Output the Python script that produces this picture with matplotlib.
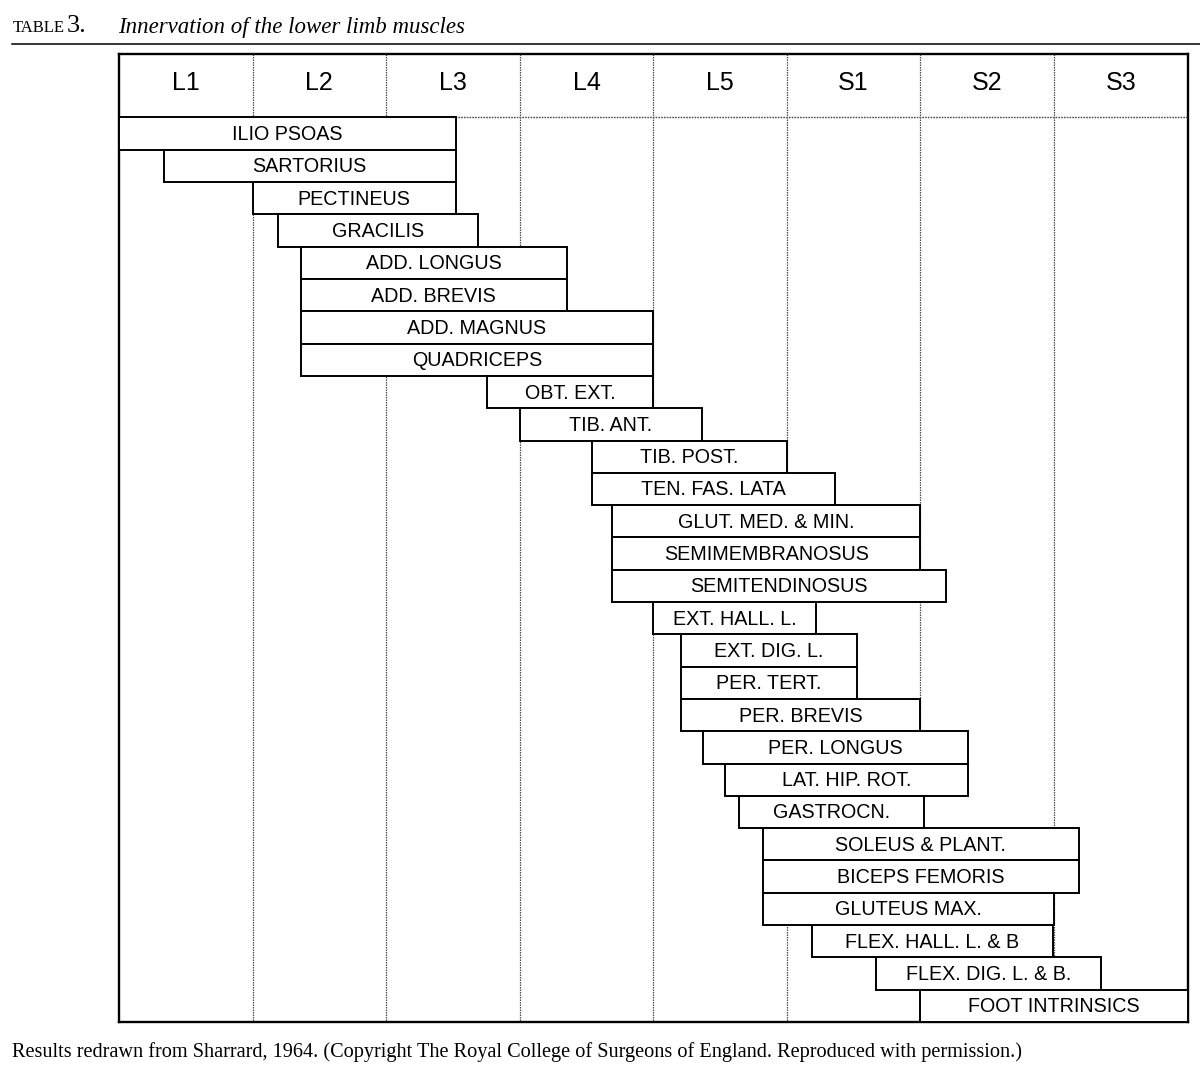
import matplotlib
matplotlib.use("Agg")
import matplotlib.pyplot as plt
from matplotlib.lines import Line2D

# ---- data ----
segments = ["L1", "L2", "L3", "L4", "L5", "S1", "S2", "S3"]
muscles = [
    "ILIO PSOAS", "SARTORIUS", "PECTINEUS", "GRACILIS", "ADD. LONGUS",
    "ADD. BREVIS", "ADD. MAGNUS", "QUADRICEPS", "OBT. EXT.", "TIB. ANT.",
    "TIB. POST.", "TEN. FAS. LATA", "GLUT. MED. & MIN.", "SEMIMEMBRANOSUS",
    "SEMITENDINOSUS", "EXT. HALL. L.", "EXT. DIG. L.", "PER. TERT.",
    "PER. BREVIS", "PER. LONGUS", "LAT. HIP. ROT.", "GASTROCN.",
    "SOLEUS & PLANT.", "BICEPS FEMORIS", "GLUTEUS MAX.", "FLEX. HALL. L. & B",
    "FLEX. DIG. L. & B.", "FOOT INTRINSICS",
]
# start / end of innervation, in segment units (L1 starts at 0, S3 ends at 8)
starts = [0.00, 0.335, 1.00, 1.19, 1.36, 1.36, 1.36, 1.36, 2.757, 3.00,
          3.538, 3.538, 3.69, 3.69, 3.69, 4.00, 4.21, 4.21, 4.21, 4.37,
          4.536, 4.643, 4.818, 4.818, 4.818, 5.185, 5.666, 6.00]
ends = [2.52, 2.52, 2.52, 2.69, 3.355, 3.355, 4.00, 4.00, 4.00, 4.364,
        5.00, 5.36, 6.00, 6.00, 6.195, 5.22, 5.526, 5.526, 6.00, 6.357,
        6.357, 6.03, 7.187, 7.187, 7.00, 6.995, 7.356, 8.00]

title_small = "TABLE"
title_num = "3."
title_text = "Innervation of the lower limb muscles"
caption = ("Results redrawn from Sharrard, 1964. (Copyright The Royal College of "
           "Surgeons of England. Reproduced with permission.)")

# ---- layout ----
W, H = 1200, 1069
fig = plt.figure(figsize=(W / 100, H / 100), dpi=100)
fig.patch.set_facecolor("white")

left_px, right_px, top_px, bottom_px = 119, 1187.5, 54, 1022
ax = fig.add_axes([left_px / W, 1 - bottom_px / H,
                   (right_px - left_px) / W, (bottom_px - top_px) / H])
n = len(muscles)
row_px = (bottom_px - 117.5) / n
header = (117.5 - top_px) / row_px
ax.set_xlim(0, len(segments))
ax.set_ylim(n, -header)
ax.set_xticks([])
ax.set_yticks([])
for s in ax.spines.values():
    s.set_linewidth(1.7)
    s.set_color("black")

sans = "Liberation Sans"
serif = "Liberation Serif"

# dotted grid
for k in range(1, len(segments)):
    ax.plot([k, k], [-header, n], color="0.3", lw=0.9,
            linestyle=(0, (1.2, 0.8)), zorder=1)
ax.plot([0, len(segments)], [0, 0], color="0.3", lw=1.0,
        linestyle=(0, (1.2, 0.8)), zorder=1)

# header labels
for k, seg in enumerate(segments):
    ax.text(k + 0.5, -header / 2 - 0.08, seg, ha="center", va="center",
            fontsize=18, family=sans, color="black")

# bars
ys = [i + 0.5 for i in range(n)]
widths = [e - s for s, e in zip(starts, ends)]
ax.barh(ys, widths, left=starts, height=1.0, facecolor="white",
        edgecolor="black", linewidth=1.4, zorder=3)
for y, s, e, name in zip(ys, starts, ends, muscles):
    ax.text((s + e) / 2, y + 0.03, name, ha="center", va="center",
            fontsize=14.2, family=sans, color="black", zorder=4)

# title
fig.text(12.5 / W, 1 - 32.5 / H, title_small, fontsize=12, family=serif,
         va="baseline", ha="left")
fig.text(67 / W, 1 - 32.5 / H, title_num, fontsize=19, family=serif,
         va="baseline", ha="left")
fig.text(118 / W, 1 - 32.5 / H, title_text, fontsize=16.5, family=serif,
         style="italic", va="baseline", ha="left")
fig.add_artist(Line2D([12 / W, 1.0], [1 - 44.3 / H, 1 - 44.3 / H],
                      color="black", lw=1.1, transform=fig.transFigure))

# caption
fig.text(12 / W, 1 - 1057 / H, caption, fontsize=14.6, family=serif,
         va="baseline", ha="left")

fig.savefig("out.png", dpi=100, facecolor="white")
